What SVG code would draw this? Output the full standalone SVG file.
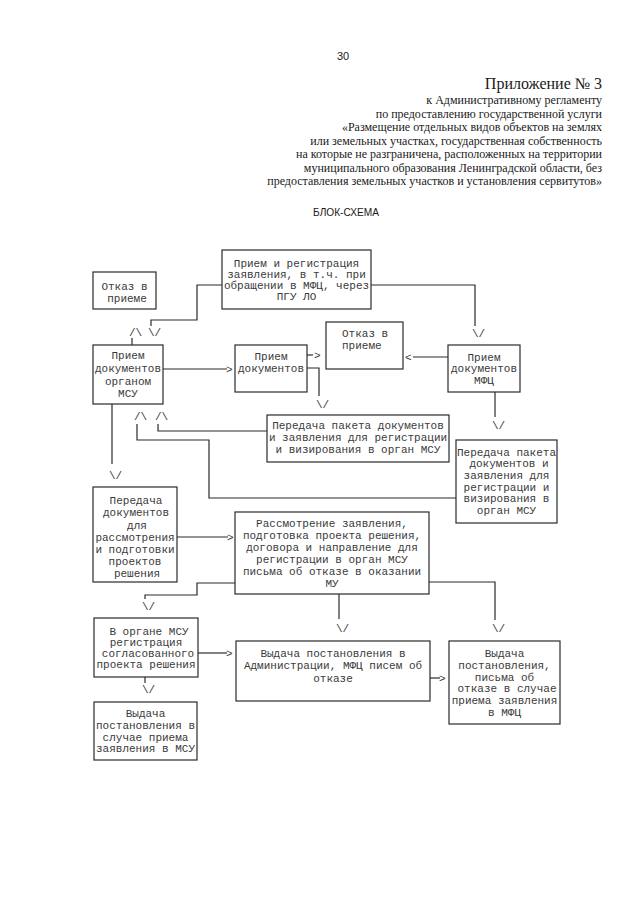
<svg xmlns="http://www.w3.org/2000/svg" width="640" height="905" viewBox="0 0 640 905">
<style>
.hd{font-family:"Liberation Serif",serif;font-size:12px;fill:#1a1a1a;text-anchor:end}
.hs{font-family:"Liberation Sans",sans-serif;font-size:11px;fill:#1a1a1a}
.bx{fill:none;stroke:#2a2a2a;stroke-width:1.2}
.t{font-family:"Liberation Mono",monospace;font-size:11px;fill:#3a3a3a;text-anchor:middle}
.tl{font-family:"Liberation Mono",monospace;font-size:11px;fill:#3a3a3a}
.ln{fill:none;stroke:#2a2a2a;stroke-width:1.2}
.ar{font-family:"Liberation Mono",monospace;font-size:11px;fill:#3a3a3a}
</style>
<rect width="640" height="905" fill="#fff"/>
<g id="header">
<text class="hs" x="337" y="60">30</text>
<text class="hd" x="602" y="89" style="font-size:16px">Приложение № 3</text>
<text class="hd" x="602" y="104">к Административному регламенту</text>
<text class="hd" x="602" y="117.5">по предоставлению государственной услуги</text>
<text class="hd" x="602" y="131">«Размещение отдельных видов объектов на землях</text>
<text class="hd" x="602" y="144.5">или земельных участках, государственная собственность</text>
<text class="hd" x="602" y="158">на которые не разграничена, расположенных на территории</text>
<text class="hd" x="602" y="171.5">муниципального образования Ленинградской области, без</text>
<text class="hd" x="602" y="185">предоставления земельных участков и установления сервитутов»</text>
<text class="hs" x="313" y="216" textLength="66" lengthAdjust="spacingAndGlyphs">БЛОК-СХЕМА</text>
</g>
<g id="connectors">
<polyline class="ln" points="222,285 197,285 197,320 151,320 151,326"/>
<text class="ar" x="148" y="336">\/</text>
<line class="ln" x1="132" y1="345" x2="132" y2="338"/>
<text class="ar" x="129" y="336">/\</text>
<line class="ln" x1="163" y1="369" x2="227" y2="369"/>
<text class="ar" x="226" y="372.5">&gt;</text>
<line class="ln" x1="307" y1="355" x2="313" y2="355"/>
<text class="ar" x="314" y="358.5">&gt;</text>
<polyline class="ln" points="307,368 319,368 319,396"/>
<text class="ar" x="316" y="408">\/</text>
<line class="ln" x1="413" y1="357" x2="448" y2="357"/>
<text class="ar" x="405" y="360.5">&lt;</text>
<polyline class="ln" points="371,285 475,285 475,326"/>
<text class="ar" x="472" y="337">\/</text>
<line class="ln" x1="495" y1="392" x2="495" y2="417"/>
<text class="ar" x="492" y="429">\/</text>
<polyline class="ln" points="456,498 209,498 209,440 137,440 137,424"/>
<text class="ar" x="134" y="420">/\</text>
<polyline class="ln" points="267,431 158,431 158,424"/>
<text class="ar" x="155" y="420">/\</text>
<line class="ln" x1="112" y1="404" x2="112" y2="464"/>
<text class="ar" x="109" y="479">\/</text>
<line class="ln" x1="177" y1="537" x2="228" y2="537"/>
<text class="ar" x="227" y="540.5">&gt;</text>
<polyline class="ln" points="235,583 197,583 197,595 145,595 145,599"/>
<text class="ar" x="142" y="610">\/</text>
<line class="ln" x1="198" y1="653" x2="227" y2="653"/>
<text class="ar" x="226" y="656.5">&gt;</text>
<line class="ln" x1="145" y1="677" x2="145" y2="683"/>
<text class="ar" x="142" y="693">\/</text>
<line class="ln" x1="339" y1="594" x2="339" y2="619"/>
<text class="ar" x="336" y="632">\/</text>
<polyline class="ln" points="429,582 495,582 495,620"/>
<text class="ar" x="492" y="632">\/</text>
<line class="ln" x1="430" y1="678" x2="440" y2="678"/>
<text class="ar" x="439" y="681.5">&gt;</text>
</g>
<g id="n-priem-reg">
<rect class="bx" x="222" y="250" width="149" height="59"/>
<text class="t" x="296.5" y="266.5">Прием и регистрация</text>
<text class="t" x="296.5" y="277.5">заявления, в т.ч. при</text>
<text class="t" x="296.5" y="288.5">обращении в МФЦ, через</text>
<text class="t" x="296.5" y="299.5">ПГУ ЛО</text>
</g>
<g id="n-otkaz-1">
<rect class="bx" x="93" y="272" width="63" height="37"/>
<text class="t" x="124.5" y="289.5">Отказ в</text>
<text class="t" x="127" y="301.5">приеме</text>
</g>
<g id="n-priem-msu">
<rect class="bx" x="93" y="345" width="70" height="59"/>
<text class="t" x="128" y="358.5">Прием</text>
<text class="t" x="128" y="371.5">документов</text>
<text class="t" x="128" y="384.5">органом</text>
<text class="t" x="128" y="396.5">МСУ</text>
</g>
<g id="n-priem-doc">
<rect class="bx" x="235" y="345" width="72" height="47"/>
<text class="t" x="271" y="359.5">Прием</text>
<text class="t" x="271" y="371.5">документов</text>
</g>
<g id="n-otkaz-2">
<rect class="bx" x="326" y="322" width="77" height="47"/>
<text class="tl" x="342" y="336.5">Отказ в</text>
<text class="tl" x="342" y="348.5">приеме</text>
</g>
<g id="n-priem-mfc">
<rect class="bx" x="448" y="345" width="72" height="47"/>
<text class="t" x="484" y="360.5">Прием</text>
<text class="t" x="484" y="371.5">документов</text>
<text class="t" x="484" y="383.5">МФЦ</text>
</g>
<g id="n-peredacha-1">
<rect class="bx" x="267" y="415" width="182" height="47"/>
<text class="t" x="358" y="428.5">Передача пакета документов</text>
<text class="t" x="358" y="440.5">и заявления для регистрации</text>
<text class="t" x="358" y="452.5">и визирования в орган МСУ</text>
</g>
<g id="n-peredacha-2">
<rect class="bx" x="456" y="440" width="101" height="83"/>
<text class="t" x="506.5" y="455.5">Передача пакета</text>
<text class="t" x="509" y="467">документов и</text>
<text class="t" x="506.5" y="478.5">заявления для</text>
<text class="t" x="506.5" y="490.5">регистрации и</text>
<text class="t" x="506.5" y="501.5">визирования в</text>
<text class="t" x="506.5" y="513.5">орган МСУ</text>
</g>
<g id="n-peredacha-3">
<rect class="bx" x="93" y="487" width="84" height="95"/>
<text class="t" x="136" y="503.5">Передача</text>
<text class="t" x="136" y="516">документов</text>
<text class="t" x="137" y="528.5">для</text>
<text class="t" x="135" y="540.5">рассмотрения</text>
<text class="t" x="135" y="552.5">и подготовки</text>
<text class="t" x="135" y="565">проектов</text>
<text class="t" x="137" y="576.5">решения</text>
</g>
<g id="n-rassmotrenie">
<rect class="bx" x="235" y="512" width="194" height="82"/>
<text class="t" x="332" y="526.5">Рассмотрение заявления,</text>
<text class="t" x="332" y="538.5">подготовка проекта решения,</text>
<text class="t" x="332" y="550.5">договора и направление для</text>
<text class="t" x="332" y="562.5">регистрации в орган МСУ</text>
<text class="t" x="332" y="574.5">письма об отказе в оказании</text>
<text class="t" x="332" y="586.5">МУ</text>
</g>
<g id="n-organ-msu">
<rect class="bx" x="94" y="618" width="104" height="59"/>
<text class="t" x="149" y="634.5">В органе МСУ</text>
<text class="t" x="146" y="645.5">регистрация</text>
<text class="t" x="148" y="656.5">согласованного</text>
<text class="t" x="146" y="667.5">проекта решения</text>
</g>
<g id="n-vydacha-msu">
<rect class="bx" x="94" y="702" width="103" height="58"/>
<text class="t" x="145.5" y="716.5">Выдача</text>
<text class="t" x="145.5" y="728.5">постановления в</text>
<text class="t" x="145.5" y="740.5">случае приема</text>
<text class="t" x="145.5" y="751.5">заявления в МСУ</text>
</g>
<g id="n-vydacha-adm">
<rect class="bx" x="236" y="641" width="194" height="60"/>
<text class="t" x="333" y="656.5">Выдача постановления в</text>
<text class="t" x="333" y="668.5">Администрации, МФЦ писем об</text>
<text class="t" x="333" y="681.5">отказе</text>
</g>
<g id="n-vydacha-mfc">
<rect class="bx" x="449" y="641" width="111" height="83"/>
<text class="t" x="504.5" y="656.5">Выдача</text>
<text class="t" x="504.5" y="668.5">постановления,</text>
<text class="t" x="504.5" y="680.5">письма об</text>
<text class="t" x="507" y="691.5">отказе в случае</text>
<text class="t" x="504.5" y="703.5">приема заявления</text>
<text class="t" x="504.5" y="715.5">в МФЦ</text>
</g>
</svg>
